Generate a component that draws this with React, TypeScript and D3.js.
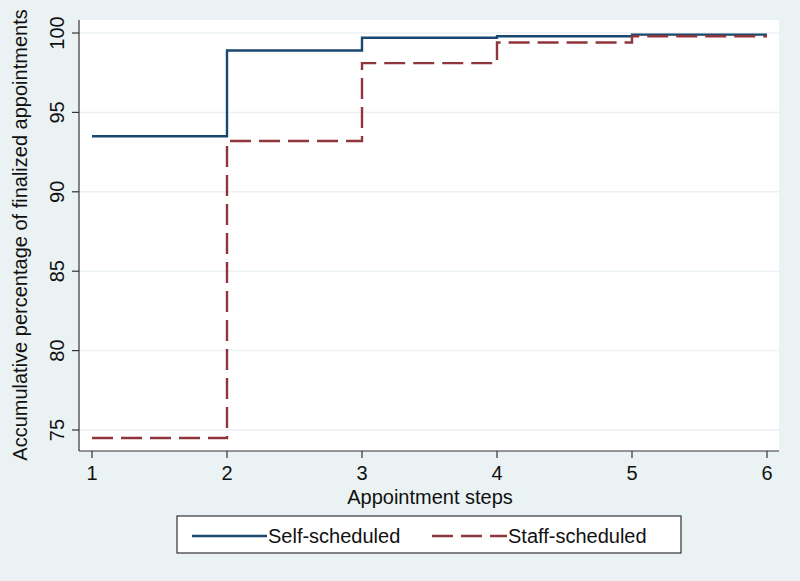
import React from "react";
import * as d3 from "d3";

// values
const steps = [1, 2, 3, 4, 5, 6];
const selfScheduled = [93.5, 98.9, 99.7, 99.8, 99.9, 99.9];
const staffScheduled = [74.5, 93.2, 98.1, 99.4, 99.8, 99.8];
const yTicks = [75, 80, 85, 90, 95, 100];

const W = 800;
const H = 581;
const M = { left: 79, right: 21, top: 20, bottom: 131 };
const FONT = "'Liberation Sans', Arial, sans-serif";
const FS = 20;
const BG = "#eaf2f3";
const NAVY = "#1a476f";
const MAROON = "#90353b";

export default function App() {
  const x = d3.scaleLinear().domain([1, 6]).range([92, 767]);
  const y = d3.scaleLinear().domain([75, 100]).range([430, 33]);
  const plotBottom = H - M.bottom + 1;
  const plotRight = W - M.right;

  const line = d3
    .line<number>()
    .x((_, i) => x(steps[i]))
    .y((d) => y(d))
    .curve(d3.curveStepAfter);

  return (
    <svg width={W} height={H} style={{ position: "absolute", left: 0, top: 0, fontFamily: FONT }}>
      <rect width={W} height={H} fill={BG} />
      <rect x={M.left} y={M.top} width={plotRight - M.left} height={plotBottom - M.top} fill="#fff" />

      {/* gridlines */}
      {yTicks.map((t) => (
        <line key={"g" + t} x1={M.left} x2={plotRight} y1={y(t)} y2={y(t)} stroke={BG} strokeWidth={1.5} />
      ))}

      {/* series */}
      <path d={line(selfScheduled) || ""} fill="none" stroke={NAVY} strokeWidth={2.4} />
      <path d={line(staffScheduled) || ""} fill="none" stroke={MAROON} strokeWidth={2.4} strokeDasharray="21 8" />

      {/* axes */}
      <line x1={M.left} x2={M.left} y1={M.top} y2={plotBottom} stroke="#333" strokeWidth={1.2} />
      <line x1={M.left} x2={plotRight} y1={plotBottom} y2={plotBottom} stroke="#333" strokeWidth={1.2} />
      {yTicks.map((t) => (
        <g key={"y" + t}>
          <line x1={M.left - 7} x2={M.left} y1={y(t)} y2={y(t)} stroke="#333" strokeWidth={1.2} />
          <text
            transform={`translate(57,${y(t)}) rotate(-90)`}
            textAnchor="middle"
            dominantBaseline="central"
            fontSize={FS}
            fill="#111"
          >
            {t}
          </text>
        </g>
      ))}
      {steps.map((s) => (
        <g key={"x" + s}>
          <line x1={x(s)} x2={x(s)} y1={plotBottom} y2={plotBottom + 7} stroke="#333" strokeWidth={1.2} />
          <text x={x(s)} y={473} textAnchor="middle" dominantBaseline="central" fontSize={FS} fill="#111">
            {s}
          </text>
        </g>
      ))}

      <text x={430} y={497} textAnchor="middle" dominantBaseline="central" fontSize={FS} fill="#111">
        Appointment steps
      </text>
      <text
        transform={`translate(20,235) rotate(-90)`}
        textAnchor="middle"
        dominantBaseline="central"
        fontSize={FS}
        fill="#111"
      >
        Accumulative percentage of finalized appointments
      </text>

      {/* legend */}
      <rect x={177} y={516} width={504} height={37} fill="#fff" stroke="#333" strokeWidth={1.2} />
      <line x1={192} x2={267} y1={536} y2={536} stroke={NAVY} strokeWidth={2.4} />
      <text x={268} y={536} dominantBaseline="central" fontSize={FS} fill="#111">
        Self-scheduled
      </text>
      <line x1={432} x2={507} y1={536} y2={536} stroke={MAROON} strokeWidth={2.4} strokeDasharray="21 8" />
      <text x={508} y={536} dominantBaseline="central" fontSize={FS} fill="#111">
        Staff-scheduled
      </text>
    </svg>
  );
}
